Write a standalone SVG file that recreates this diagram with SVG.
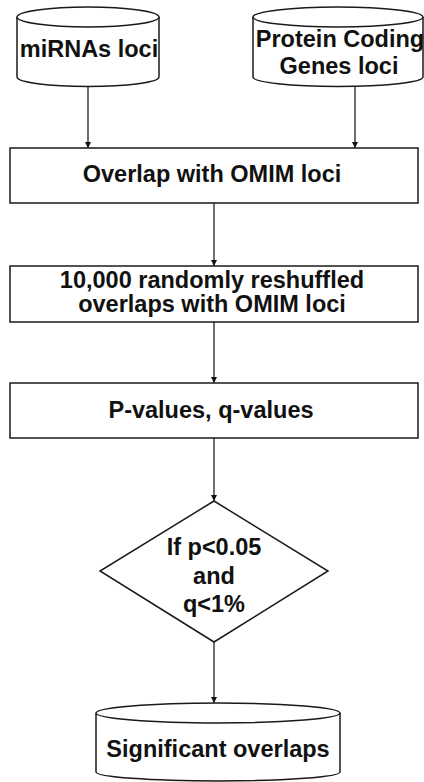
<svg xmlns="http://www.w3.org/2000/svg" width="424" height="782" viewBox="0 0 424 782">
<style>
.s{fill:#fff;stroke:#1a1a1a;stroke-width:1.5}
.t{font-family:"Liberation Sans",Arial,sans-serif;font-weight:bold;font-size:23.5px;fill:#111;text-anchor:middle}
.c{stroke:#222;stroke-width:1.3;fill:none}
</style>
<defs>
<marker id="ah" viewBox="0 0 10 10" refX="10" refY="5" markerWidth="6" markerHeight="6" markerUnits="userSpaceOnUse" orient="auto">
<path d="M0,0 L10,5 L0,10 z" fill="#111"/>
</marker>
</defs>
<rect width="424" height="782" fill="#fff"/>
<g id="mirna">
<path class="s" d="M17,17 L17,77 A71,9.5 0 0 0 159,77 L159,17"/>
<ellipse class="s" cx="88" cy="17" rx="71" ry="10"/>
<text class="t" x="89" y="57">miRNAs loci</text>
</g>
<g id="protein">
<path class="s" d="M253,17 L253,77 A85,9.5 0 0 0 423,77 L423,17"/>
<ellipse class="s" cx="338" cy="17" rx="85" ry="10"/>
<text class="t" x="340" y="47">Protein Coding</text>
<text class="t" x="339" y="74">Genes loci</text>
</g>
<g id="overlap">
<rect class="s" x="10" y="148" width="408" height="55"/>
<text class="t" x="212" y="182">Overlap with OMIM loci</text>
</g>
<g id="reshuffled">
<rect class="s" x="10" y="266" width="408" height="56"/>
<text class="t" x="212" y="288">10,000 randomly reshuffled</text>
<text class="t" x="212" y="312">overlaps with OMIM loci</text>
</g>
<g id="pvalues">
<rect class="s" x="10" y="383" width="408" height="55"/>
<text class="t" x="211" y="418">P-values, q-values</text>
</g>
<g id="decision">
<polygon class="s" points="214,501 328,571 214,642 100,571"/>
<text class="t" x="214" y="555">If p&lt;0.05</text>
<text class="t" x="214" y="584">and</text>
<text class="t" x="214" y="612">q&lt;1%</text>
</g>
<g id="significant">
<path class="s" d="M96,713 L96,772 A122,9 0 0 0 340,772 L340,713"/>
<ellipse class="s" cx="218" cy="713" rx="122" ry="10"/>
<text class="t" x="218" y="757">Significant overlaps</text>
</g>
<g id="connectors">
<line class="c" x1="88" y1="87" x2="88" y2="148" marker-end="url(#ah)"/>
<line class="c" x1="355" y1="87" x2="355" y2="148" marker-end="url(#ah)"/>
<line class="c" x1="214" y1="203" x2="214" y2="266" marker-end="url(#ah)"/>
<line class="c" x1="214" y1="322" x2="214" y2="383" marker-end="url(#ah)"/>
<line class="c" x1="214" y1="438" x2="214" y2="501" marker-end="url(#ah)"/>
<line class="c" x1="214" y1="642" x2="214" y2="703" marker-end="url(#ah)"/>
</g>
</svg>
